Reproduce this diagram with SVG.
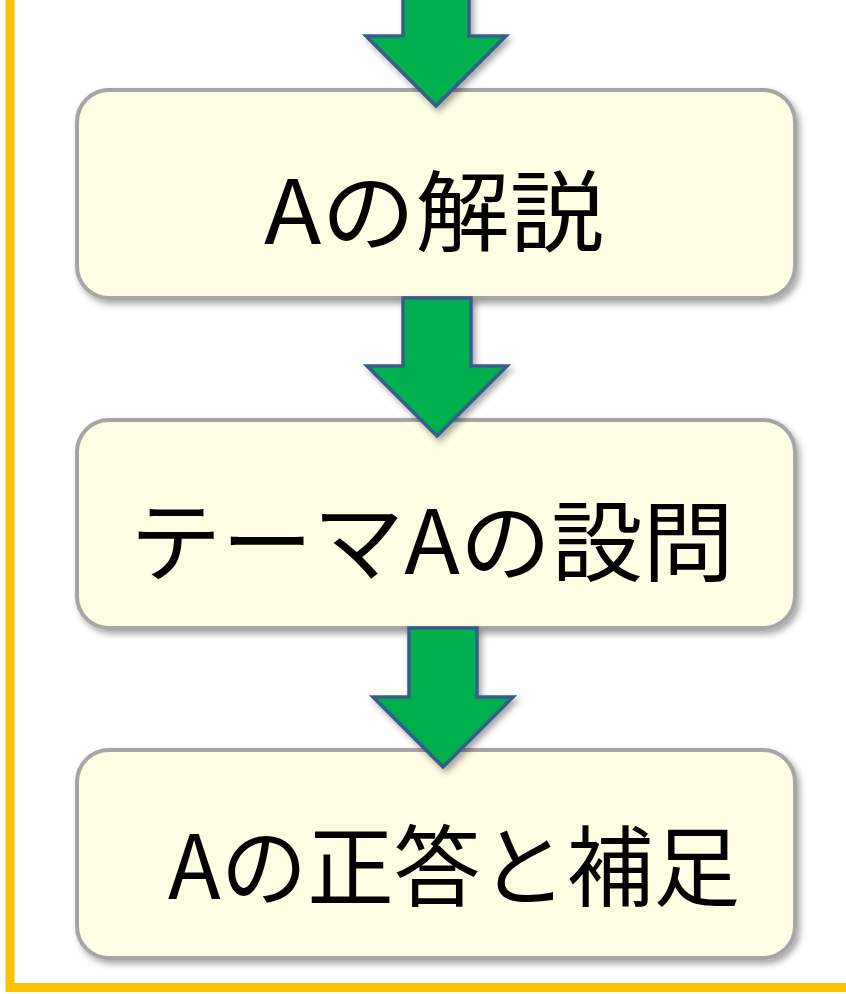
<svg xmlns="http://www.w3.org/2000/svg" width="846" height="994" viewBox="0 0 846 994">
<defs>
<filter id="sh" x="-10%" y="-10%" width="130%" height="130%">
<feDropShadow dx="3" dy="4" stdDeviation="3" flood-color="#000" flood-opacity="0.35"/>
</filter>
<style>
.box{fill:#fefee5;stroke:#a6a6a6;stroke-width:4;filter:url(#sh)}
.arr{fill:#00b050;stroke:#385d8a;stroke-width:3.5;stroke-linejoin:miter;filter:url(#sh)}
.lbl{font-family:"Noto Sans CJK JP","Noto Sans",sans-serif;font-size:88px;fill:#000}
</style>
</defs>
<rect width="846" height="994" fill="#fff"/>
<path d="M10,-10 V987.5 H856" fill="none" stroke="#ffc000" stroke-width="9"/>
<g id="n1">
<rect class="box" x="77" y="90" width="718" height="208" rx="32"/>
<text class="lbl" x="264" y="244" textLength="340" lengthAdjust="spacingAndGlyphs">Aの解説</text>
</g>
<g id="n2">
<rect class="box" x="77" y="420" width="718" height="208" rx="32"/>
<text class="lbl" x="130" y="574" textLength="604" lengthAdjust="spacingAndGlyphs">テーマAの設問</text>
</g>
<g id="n3">
<rect class="box" x="77" y="750" width="718" height="208" rx="32"/>
<text class="lbl" x="168" y="899" textLength="572" lengthAdjust="spacingAndGlyphs">Aの正答と補足</text>
</g>
<g id="connectors">
<path class="arr" d="M403,-10 H469 V36 H506 L436,106 L366,36 H403 Z"/>
<path class="arr" d="M403,298 H471 V366 H507 L437,436 L367,366 H403 Z"/>
<path class="arr" d="M409,628 H477 V697 H513 L443,767 L373,697 H409 Z"/>
</g>
</svg>
